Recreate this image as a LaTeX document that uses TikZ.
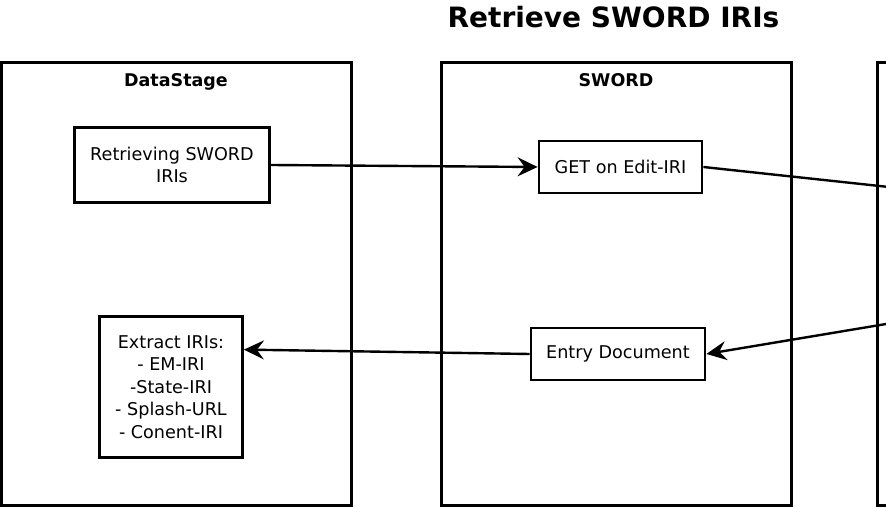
\documentclass[tikz,border=0pt]{standalone}
\usepackage{fontspec}
\setmainfont{DejaVu Sans}
\usepackage{tikz}
\usetikzlibrary{arrows.meta,positioning,calc}
\tikzset{
lane/.style={
    draw, rectangle, line width=3pt,
    minimum width=350pt, minimum height=443pt,
    inner sep=0pt
  },
lanetitle/.style={
    font=\fontsize{17.5}{21}\selectfont\bfseries,
    anchor=base
  }
}

\begin{document}
\begin{tikzpicture}[
 x=1pt, y=1pt,
 box/.style={
        draw, rectangle, line width=2.8pt,
        align=center, inner sep=4pt,
        font=\fontsize{17.6}{22}\selectfont
    },
 arr/.style={line width=2.4pt, -{Stealth[length=20pt,width=19pt,inset=7pt]}}
  ]
\useasboundingbox (0,0) rectangle (886,508);
\clip (0,0) rectangle (886,508);

\node[font=\fontsize{28}{34}\selectfont\bfseries] (title) at (613.5,491) {Retrieve SWORD IRIs};

\node[lane] (ds) at (176,223.5) {};
\node[lane] (sw) at (616,223.5) {};
\node[lane] (srv) at (1052,223.5) {};
\node[lanetitle] (dslabel) at (176,421.5) {DataStage};
\node[lanetitle] (swlabel) at (616,421.5) {SWORD};

\node[box,minimum width=195pt,minimum height=75pt] (ret) at (172,343) {Retrieving SWORD\\IRIs};
\node[box,minimum width=163pt,minimum height=52pt] (get) at (620.5,341) {GET on Edit-IRI};
\node[box,minimum width=174pt,minimum height=52pt] (entry) at (618,154) {Entry Document};
\node[box,minimum width=143pt,minimum height=141pt,font=\fontsize{17.6}{22.5}\selectfont] (extract) at (171,121)
  {Extract IRIs:\\- EM-IRI\\-State-IRI\\- Splash-URL\\- Conent-IRI};

% the far lane is cut off at the right edge
\coordinate (srvin) at (1000,309);
\coordinate (srvout) at (1000,203);
\coordinate (extractin) at ($(extract.north east)!.24!(extract.south east)$);

\draw[arr] (ret.east) -- (get.west);
\draw[arr] (get.east) -- (srvin);
\draw[arr] (srvout) -- (entry.east);
\draw[arr] (entry.west) -- (extractin);
\end{tikzpicture}
\end{document}
